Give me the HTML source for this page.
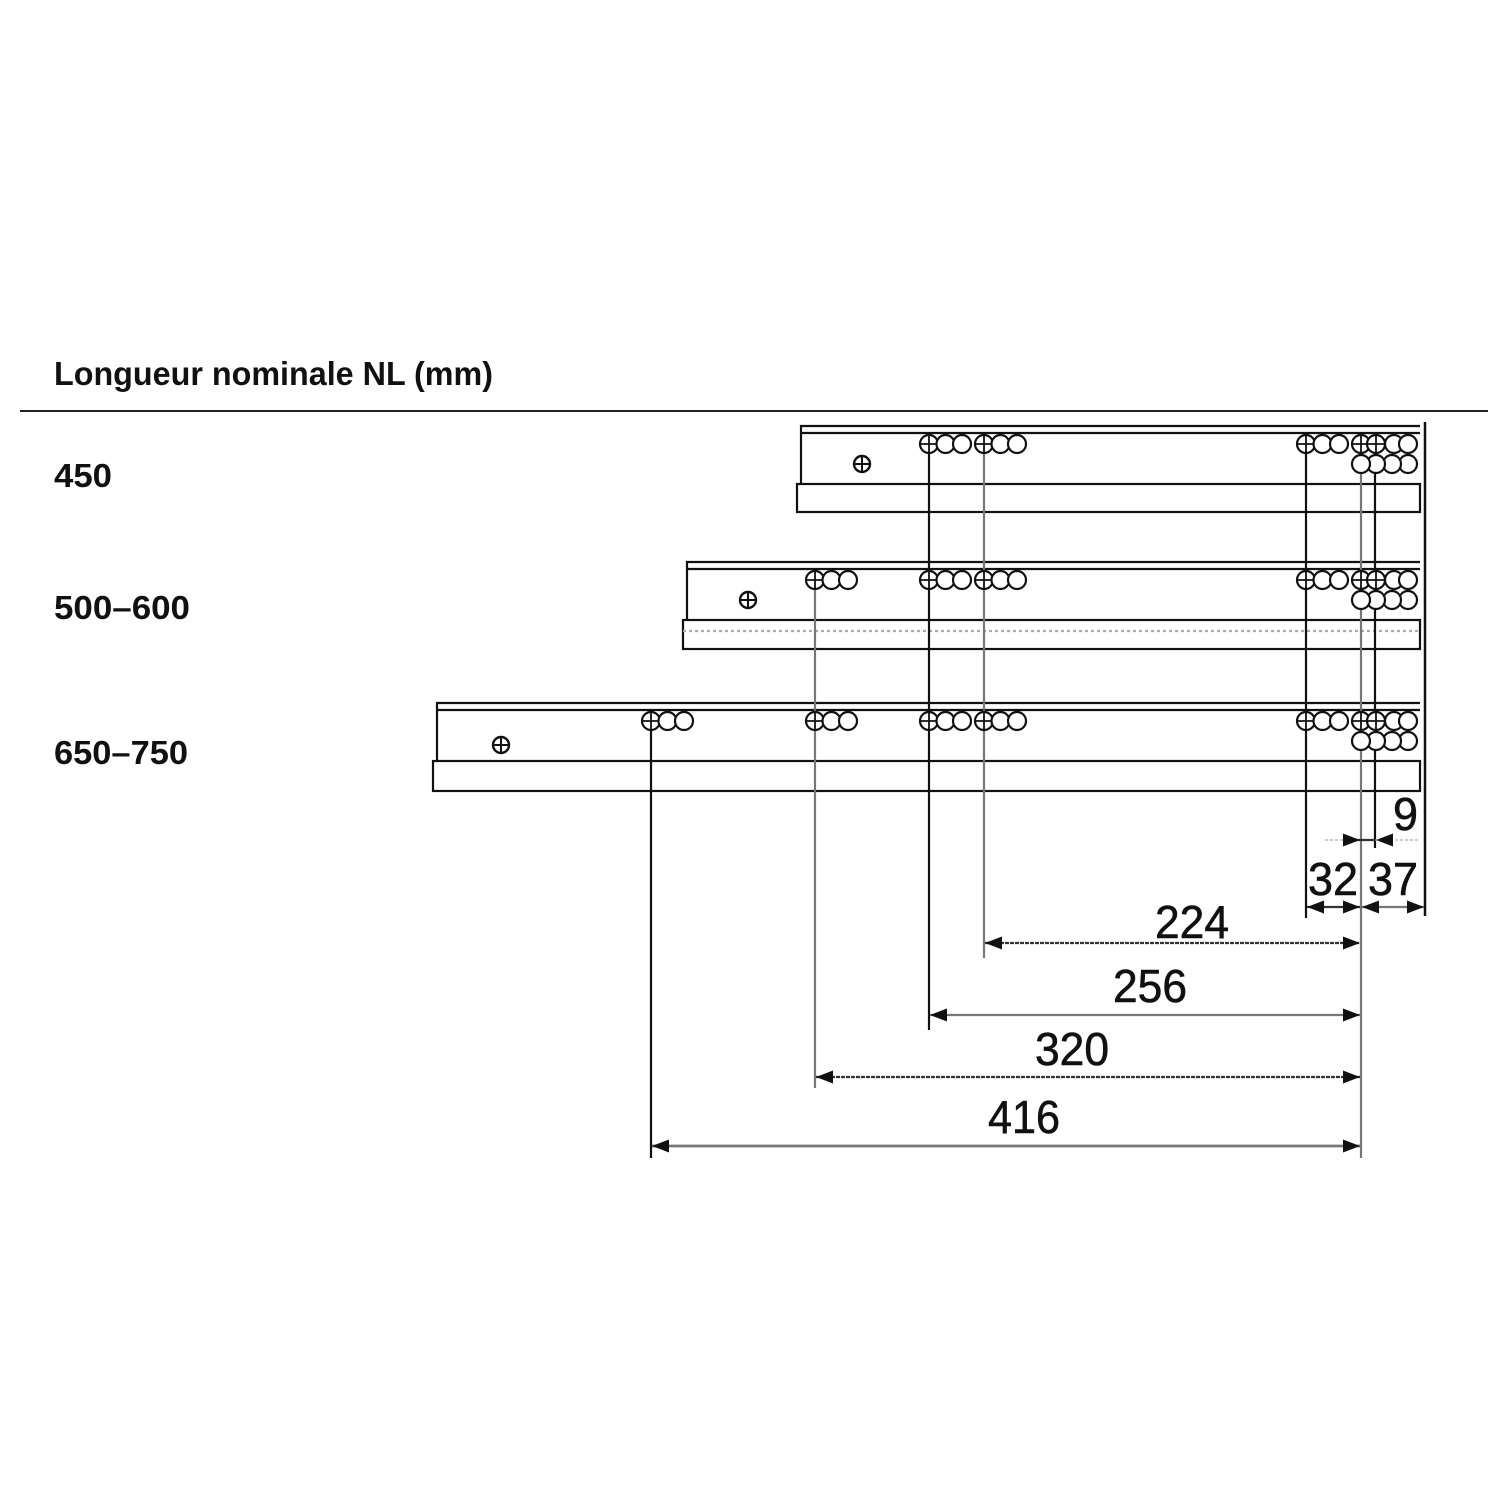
<!DOCTYPE html>
<html><head><meta charset="utf-8"><style>html,body{margin:0;padding:0;background:#fff}svg{display:block}</style></head>
<body>
<svg width="1500" height="1500" viewBox="0 0 1500 1500" xmlns="http://www.w3.org/2000/svg">
<defs>
<g id="c"><circle r="9" fill="#fff" stroke="#111" stroke-width="2.2"/></g>
<g id="p"><circle r="9" fill="#fff" stroke="#111" stroke-width="2.2"/><line x1="-9" y1="0" x2="9" y2="0" stroke="#111" stroke-width="1.8"/><line x1="0" y1="-9" x2="0" y2="9" stroke="#111" stroke-width="1.8"/></g>
<g id="s"><circle r="8" fill="#fff" stroke="#111" stroke-width="2.4"/><line x1="-8" y1="0" x2="8" y2="0" stroke="#111" stroke-width="2"/><line x1="0" y1="-8" x2="0" y2="8" stroke="#111" stroke-width="2"/></g>
<g id="g3"><use href="#p"/><use href="#c" x="16.5"/><use href="#c" x="33"/></g>
<g id="gr"><use href="#c" x="33"/><use href="#c" x="47"/><use href="#p"/><use href="#p" x="15"/>
<use href="#c" y="20" x="47"/><use href="#c" y="20" x="31"/><use href="#c" y="20" x="15"/><use href="#c" y="20"/></g>
<path id="ar" d="M0,0 L-17,-6.5 L-17,6.5z" fill="#111"/>
<path id="al" d="M0,0 L17,-6.5 L17,6.5z" fill="#111"/>
</defs>

<g font-family="Liberation Sans, sans-serif" fill="#111">
<text x="54" y="385" font-size="33" textLength="439" lengthAdjust="spacingAndGlyphs" font-weight="bold">Longueur nominale NL (mm)</text>
<text x="54" y="487" font-size="33" font-weight="bold" textLength="58" lengthAdjust="spacingAndGlyphs">450</text>
<text x="54" y="619" font-size="33" font-weight="bold" textLength="136" lengthAdjust="spacingAndGlyphs">500–600</text>
<text x="54" y="764" font-size="33" font-weight="bold" textLength="134" lengthAdjust="spacingAndGlyphs">650–750</text>
</g>
<line x1="20" y1="411" x2="1488" y2="411" stroke="#222" stroke-width="2"/>

<g fill="none" stroke="#111" stroke-width="2.2">
<path d="M801,484 V426 H1420 M801,433 H1420"/>
<rect x="797" y="484" width="623" height="28"/>
<path d="M687,620 V562 H1420 M687,569 H1420"/>
<rect x="683" y="620" width="737" height="29"/>
<line x1="683" y1="631" x2="1420" y2="631" stroke="#aaa" stroke-dasharray="3 3"/>
<path d="M437,761 V703 H1420 M437,710 H1420"/>
<rect x="433" y="761" width="987" height="30"/>
<line x1="1425" y1="422" x2="1425" y2="916" stroke-width="2.5"/>
<line x1="651" y1="721" x2="651" y2="1158"/>
<line x1="815" y1="580" x2="815" y2="1088" stroke="#777"/>
<line x1="929" y1="444" x2="929" y2="1030"/>
<line x1="984" y1="444" x2="984" y2="958" stroke="#777"/>
<line x1="1306" y1="444" x2="1306" y2="918"/>
<line x1="1361" y1="444" x2="1361" y2="1158" stroke="#777"/>
<line x1="1375" y1="444" x2="1375" y2="848"/>
</g>

<use href="#s" x="862" y="464"/>
<use href="#g3" x="929" y="444"/><use href="#g3" x="984" y="444"/><use href="#g3" x="1306" y="444"/><use href="#gr" x="1361" y="444"/>
<use href="#s" x="748" y="600"/>
<use href="#g3" x="815" y="580"/><use href="#g3" x="929" y="580"/><use href="#g3" x="984" y="580"/><use href="#g3" x="1306" y="580"/><use href="#gr" x="1361" y="580"/>
<use href="#s" x="501" y="745"/>
<use href="#g3" x="651" y="721"/><use href="#g3" x="815" y="721"/><use href="#g3" x="929" y="721"/><use href="#g3" x="984" y="721"/><use href="#g3" x="1306" y="721"/><use href="#gr" x="1361" y="721"/>

<g stroke="#333" stroke-width="2.2">
<line x1="985" y1="943" x2="1360" y2="943" stroke-dasharray="4 1"/>
<line x1="930" y1="1015" x2="1360" y2="1015" stroke="#777"/>
<line x1="816" y1="1077" x2="1360" y2="1077" stroke-dasharray="4 1"/>
<line x1="652" y1="1146" x2="1360" y2="1146" stroke="#777" stroke-width="2.8"/>
<line x1="1307" y1="907" x2="1360" y2="907"/>
<line x1="1362" y1="907" x2="1424" y2="907" stroke="#777"/>
<line x1="1325" y1="840" x2="1420" y2="840" stroke="#999" stroke-width="1" stroke-dasharray="3 2"/>
<line x1="1345" y1="840" x2="1375" y2="840"/>
</g>
<use href="#al" x="985" y="943"/><use href="#ar" x="1360" y="943"/>
<use href="#al" x="930" y="1015"/><use href="#ar" x="1360" y="1015"/>
<use href="#al" x="816" y="1077"/><use href="#ar" x="1360" y="1077"/>
<use href="#al" x="652" y="1146"/><use href="#ar" x="1360" y="1146"/>
<use href="#al" x="1307" y="907"/><use href="#ar" x="1360" y="907"/>
<use href="#al" x="1362" y="907"/><use href="#ar" x="1424" y="907"/>
<use href="#ar" x="1360" y="840"/><use href="#al" x="1376" y="840"/>

<g font-family="Liberation Sans, sans-serif" fill="#111" font-size="46" stroke="#111" stroke-width="0.6">
<text x="1155" y="938" textLength="74" lengthAdjust="spacingAndGlyphs">224</text>
<text x="1113" y="1002" textLength="74" lengthAdjust="spacingAndGlyphs">256</text>
<text x="1035" y="1065" textLength="74" lengthAdjust="spacingAndGlyphs">320</text>
<text x="988" y="1133" textLength="72" lengthAdjust="spacingAndGlyphs">416</text>
<text x="1308" y="895" textLength="50" lengthAdjust="spacingAndGlyphs">32</text>
<text x="1368" y="895" textLength="50" lengthAdjust="spacingAndGlyphs">37</text>
<text x="1393" y="830" textLength="25" lengthAdjust="spacingAndGlyphs">9</text>
</g>
</svg>
</body></html>
